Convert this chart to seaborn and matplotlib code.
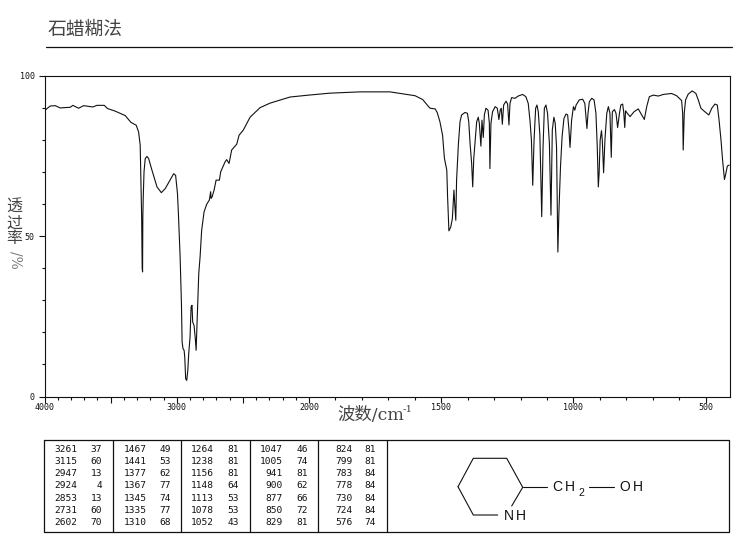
# -*- coding: utf-8 -*-
import matplotlib
matplotlib.use("Agg")
import matplotlib.pyplot as plt
import numpy as np
import pandas as pd
import seaborn as sns

# Spectrum
wavenumber = [
    3995, 3982, 3957, 3919, 3882, 3806, 3786, 3743, 3705, 3635, 3604, 3549, 3524, 3466, 3390, 3347,
    3307, 3289, 3277, 3272, 3266, 3262, 3259, 3257, 3254, 3248, 3239, 3226, 3213, 3188, 3150, 3117,
    3087, 3049, 3024, 3009, 2995, 2988, 2975, 2965, 2960, 2953, 2945, 2940, 2933, 2925, 2917, 2910,
    2900, 2892, 2885, 2880, 2870, 2860, 2854, 2849, 2842, 2834, 2824, 2812, 2794, 2774, 2754, 2744,
    2741, 2733, 2718, 2703, 2678, 2668, 2635, 2623, 2605, 2585, 2547, 2529, 2497, 2446, 2370, 2294,
    2143, 2000, 1921, 1807, 1694, 1599, 1570, 1550, 1542, 1523, 1515, 1505, 1495, 1488, 1479, 1476,
    1471, 1464, 1458, 1452, 1449, 1445, 1442, 1435, 1429, 1423, 1410, 1401, 1396, 1391, 1385, 1381,
    1377, 1372, 1366, 1360, 1356, 1350, 1346, 1341, 1337, 1331, 1323, 1318, 1316, 1312, 1306, 1296,
    1288, 1282, 1277, 1273, 1269, 1264, 1255, 1249, 1244, 1240, 1234, 1221, 1209, 1192, 1180, 1171,
    1164, 1159, 1154, 1149, 1143, 1138, 1133, 1127, 1120, 1115, 1110, 1104, 1098, 1091, 1085, 1080,
    1074, 1069, 1064, 1059, 1055, 1049, 1043, 1036, 1028, 1022, 1017, 1013, 1007, 1000, 995, 990,
    978, 965, 957, 952, 949, 945, 940, 931, 922, 915, 910, 906, 903, 899, 894, 891,
    886, 881, 874, 868, 862, 857, 853, 845, 839, 833, 826, 821, 814, 810, 806, 803,
    796, 786, 771, 755, 742, 732, 723, 713, 698, 679, 660, 629, 610, 591, 587, 585,
    581, 576, 566, 551, 537, 528, 518, 503, 488, 477, 465, 456, 450, 442, 436, 429,
    425, 418, 411,
]
transmittance = [
    89.2, 89.7, 90.5, 90.6, 89.9, 90.1, 90.7, 89.8, 90.6, 90.2, 90.7, 90.7, 89.7, 88.9, 87.5, 85.4,
    84.5, 82.4, 78.3, 68.4, 56.0, 40.0, 38.8, 56.0, 62.0, 70.0, 74.1, 74.8, 74.1, 70.5, 65.3, 63.5,
    64.8, 67.6, 69.4, 68.9, 63.2, 57.0, 43.5, 28.9, 17.0, 14.9, 14.4, 12.3, 5.5, 5.0, 8.1, 13.3,
    18.5, 27.9, 28.4, 23.2, 22.2, 18.0, 14.4, 20.6, 29.4, 38.3, 43.5, 51.8, 57.5, 59.9, 61.2, 63.8,
    61.7, 62.2, 64.3, 67.4, 67.4, 70.0, 73.1, 73.8, 72.6, 76.8, 78.6, 81.4, 83.0, 87.0, 90.0, 91.4,
    93.3, 93.9, 94.5, 94.9, 94.9, 93.7, 92.5, 90.5, 89.8, 89.6, 88.4, 85.6, 81.4, 74.2, 70.5, 62.2,
    51.6, 52.8, 55.4, 64.3, 60.0, 54.9, 67.4, 78.8, 85.6, 87.7, 88.5, 88.2, 85.6, 78.8, 72.6, 65.3,
    74.2, 79.4, 85.6, 87.0, 85.1, 78.0, 86.1, 80.7, 87.7, 89.8, 89.2, 85.1, 71.0, 85.1, 88.7, 90.3,
    89.8, 86.3, 89.2, 89.8, 84.8, 90.8, 92.0, 91.1, 84.6, 91.3, 93.1, 92.9, 93.6, 94.1, 93.4, 91.3,
    85.6, 79.9, 65.8, 79.9, 89.8, 90.8, 88.7, 81.4, 56.0, 77.8, 89.8, 90.8, 88.2, 78.8, 56.5, 83.0,
    87.0, 85.1, 77.8, 45.0, 57.5, 71.6, 80.9, 86.6, 88.0, 87.7, 83.0, 77.6, 86.1, 90.3, 89.2, 90.8,
    92.4, 92.6, 91.3, 86.6, 83.5, 88.2, 91.8, 92.9, 92.4, 88.2, 77.8, 65.3, 69.5, 79.9, 82.8, 79.9,
    69.7, 79.9, 88.2, 90.3, 88.2, 74.5, 88.7, 89.4, 88.2, 83.8, 88.2, 90.8, 91.1, 88.7, 83.8, 89.0,
    88.2, 87.2, 88.7, 89.6, 87.7, 86.3, 90.3, 93.4, 93.9, 93.6, 94.1, 94.4, 93.7, 92.2, 88.2, 76.8,
    88.2, 92.4, 94.2, 95.2, 94.4, 92.4, 89.8, 88.7, 87.7, 89.8, 91.1, 90.8, 86.6, 79.9, 73.6, 67.6,
    69.0, 71.8, 72.1,
]

x_major = [4000, 3500, 3000, 2500, 2000, 1500, 1000, 500]
x_labels = ["4000", "", "3000", "", "2000", "1500", "1000", "500"]
y_major = [0, 50, 100]
y_labels = ["0", "50", "100"]

# Peak table, one pair of lists per column
peak_wn_1 = [3261, 3115, 2947, 2924, 2853, 2731, 2602]
peak_t_1 = [37, 60, 13, 4, 13, 60, 70]
peak_wn_2 = [1467, 1441, 1377, 1367, 1345, 1335, 1310]
peak_t_2 = [49, 53, 62, 77, 74, 77, 68]
peak_wn_3 = [1264, 1238, 1156, 1148, 1113, 1078, 1052]
peak_t_3 = [81, 81, 81, 64, 53, 53, 43]
peak_wn_4 = [1047, 1005, 941, 900, 877, 850, 829]
peak_t_4 = [46, 74, 81, 62, 66, 72, 81]
peak_wn_5 = [824, 799, 783, 778, 730, 724, 576]
peak_t_5 = [81, 81, 84, 84, 84, 84, 74]

ink = "#111111"
text_grey = "#444444"
cjk = ["DejaVu Serif", "Noto Sans CJK SC", "DejaVu Sans"]
mono = "DejaVu Sans Mono"
W, H = 737, 539

sns.set_style("white")
df = pd.DataFrame({"wavenumber": wavenumber, "transmittance": transmittance})

fig = plt.figure(figsize=(W / 100, H / 100), dpi=100, facecolor="white")
ax = fig.add_axes([44.6 / W, 1 - 396.5 / H, (730 - 44.6) / W, (396.5 - 75.5) / H])


# Axis is compressed twice above 2000 cm-1
def forward(v):
    v = np.asarray(v, dtype=float)
    return np.where(v >= 2000, v / 2 + 1000, v)


def inverse(v):
    v = np.asarray(v, dtype=float)
    return np.where(v >= 2000, (v - 1000) * 2, v)


ax.set_xscale("function", functions=(forward, inverse))

sns.lineplot(data=df, x="wavenumber", y="transmittance", ax=ax, color=ink,
             linewidth=0.8, sort=False, estimator=None, errorbar=None)

ax.set_xlim(4000, 408)
ax.set_ylim(0, 100)
ax.set_xlabel("")
ax.set_ylabel("")

ax.set_xticks(x_major)
ax.set_xticklabels(x_labels, fontfamily=mono, fontsize=6, color=ink)
ax.set_xticks(np.arange(3900, 400, -100), minor=True)
ax.set_yticks(y_major)
ax.set_yticklabels(y_labels, fontfamily=mono, fontsize=6, color=ink)
ax.set_yticks(np.arange(10, 100, 10), minor=True)
ax.tick_params(axis="both", which="major", length=4, width=0.8, color=ink, pad=3)
ax.tick_params(axis="x", which="major", pad=1)
ax.tick_params(axis="both", which="minor", length=2, width=0.8, color=ink)
ax.tick_params(bottom=True, left=True, which="both")
for spine in ax.spines.values():
    spine.set_linewidth(0.8)
    spine.set_color(ink)

# Everything around the plot goes on a pixel overlay
over = fig.add_axes([0, 0, 1, 1], facecolor="none")
over.set_xlim(0, W)
over.set_ylim(H, 0)
over.axis("off")

over.text(48, 30, "石蜡糊法", family=cjk, fontsize=13.5, color=text_grey, va="center")
over.plot([46, 732], [47, 47], color=ink, lw=0.9)

# Axis titles
over.text(337, 415, "波数/cm", family=cjk, fontsize=12.5, color=text_grey, va="center")
over.text(403, 409, "-1", family=cjk, fontsize=7.5, color=text_grey, va="center")
for ch, yy in zip("透过率", [207, 223, 239]):
    over.text(14, yy, ch, family=cjk, fontsize=11.5, color=text_grey, ha="center", va="center")
over.text(15, 260, "/%", family=cjk, fontsize=10, color="#777777", rotation=-90, ha="center", va="center")

# Peak table
over.plot([44.5, 729.5, 729.5, 44.5, 44.5], [439.5, 439.5, 531.5, 531.5, 439.5], color=ink, lw=0.9)
for xs in [113, 181, 250, 318, 387]:
    over.plot([xs, xs], [439.5, 531.5], color=ink, lw=0.9)
columns = [(peak_wn_1, peak_t_1, 77, 102), (peak_wn_2, peak_t_2, 146.7, 170.7),
           (peak_wn_3, peak_t_3, 213.7, 239), (peak_wn_4, peak_t_4, 282.7, 307.7),
           (peak_wn_5, peak_t_5, 352.3, 376)]
for wn_col, t_col, x_wn, x_t in columns:
    for i, (w, t) in enumerate(zip(wn_col, t_col)):
        yy = 449 + i * 12.3
        over.text(x_wn, yy, str(w), family=mono, fontsize=6.8, color=ink, ha="right", va="center")
        over.text(x_t, yy, str(t), family=mono, fontsize=6.8, color=ink, ha="right", va="center")

# Structure: piperidine ring with CH2-OH
ring_x = [458, 473.3, 506.7, 522.7, 511.7]
ring_y = [486.7, 458.3, 458.3, 487.3, 506]
over.plot(ring_x, ring_y, color=ink, lw=0.8)
over.plot([458, 473.3, 497.7], [486.7, 515, 515], color=ink, lw=0.8)
over.plot([522.7, 547.3], [487.3, 487.3], color=ink, lw=0.8)
over.plot([589.3, 614], [487.3, 487.3], color=ink, lw=0.8)
sans = "Liberation Sans"
for ch, xx, yy in [("N", 503.5, 515.5), ("H", 516, 515.5), ("C", 552.7, 487),
                   ("H", 565, 487), ("O", 619, 487), ("H", 632.5, 487)]:
    over.text(xx, yy, ch, family=sans, fontsize=10, color=ink, va="center")
over.text(578, 492.5, "2", family=sans, fontsize=7.5, color=ink, va="center")

fig.savefig("out.png", dpi=100)
